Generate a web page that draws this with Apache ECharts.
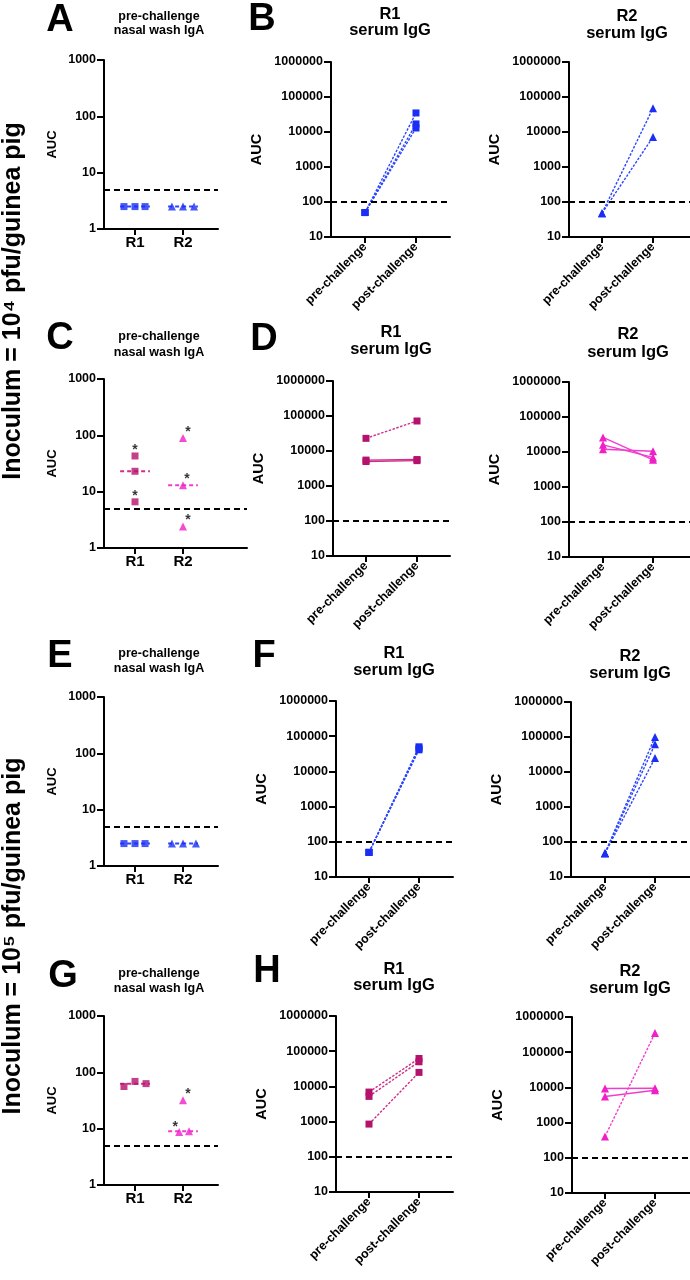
<!DOCTYPE html>
<html><head><meta charset="utf-8">
<script src="https://cdn.jsdelivr.net/npm/echarts@6/dist/echarts.min.js"></script>
<style>html,body{margin:0;padding:0;background:#fff}#c{width:690px;height:1280px}</style>
</head><body><div id="c"></div>
<script>
// ================= DATA =================
const nasalCategories = ['R1', 'R2'];
const serumCategories = ['pre-challenge', 'post-challenge'];
const nasalTickLabels = ['1', '10', '100', '1000'];
const serumTickLabels = ['10', '100', '1000', '10000', '100000', '1000000'];
const nasalLOD = 5;
const serumLOD = 100;
const sideLabels = ['Inoculum = 10\u2074 pfu/guinea pig', 'Inoculum = 10\u2075 pfu/guinea pig'];

// A: 10^4, pre-challenge nasal wash IgA
const aR1 = [2.5, 2.5, 2.5];
const aR2 = [2.5, 2.5, 2.5];
// B: 10^4, serum IgG
const bR1Pre = [50, 50, 50];
const bR1Post = [35000, 17000, 13000];
const bR2Pre = [48, 48];
const bR2Post = [48000, 7200];
// C: 10^4, nasal IgA
const cR1 = [43, 23, 6.6];
const cR2 = [90, 13, 2.4];
const cR1Star = [1, 0, 1];
const cR2Star = [1, 1, 1];
// D: 10^4, serum IgG
const dR1Pre = [23000, 5500, 5000];
const dR1Post = [72000, 5700, 5300];
const dR2Pre = [26000, 16000, 12000];
const dR2Post = [6000, 7000, 10500];
// E: 10^5, nasal IgA
const eR1 = [2.5, 2.5, 2.5];
const eR2 = [2.5, 2.5, 2.5];
// F: 10^5, serum IgG
const fR1Pre = [50, 50, 50];
const fR1Post = [50000, 45000, 41000];
const fR2Pre = [48, 48, 48];
const fR2Post = [100000, 62000, 25000];
// G: 10^5, nasal IgA
const gR1 = [56, 69, 63];
const gR2 = [8.7, 32, 9.0];
const gR1Star = [0, 0, 0];
const gR2Star = [1, 1, 0];
// H: 10^5, serum IgG
const hR1Pre = [6900, 5200, 850];
const hR1Post = [62000, 50000, 25000];
const hR2Pre = [9300, 5500, 400];
const hR2Post = [9500, 8300, 350000];

// ================= STYLE / LAYOUT =================
const FONT = 'Liberation Sans, Arial, sans-serif';
const BLUE = { m: '#1a2ef5', l: '#2b45ff' };
const CRIM = { m: '#b5126d', l: '#cf2f88' };
const PINK = { m: '#f01fc8', l: '#f23ccd' };
const DOT = [2.5, 1.5];

const panels = [
  { letter: 'A', kind: 'nasal', box: [104, 60, 114, 169], x: [0.354, 2.729], L: [60, 21], tx: 159, ty: [17, 31],
    groups: [
      { vals: aR1, col: BLUE, sym: 'rect', jit: [-0.23, 0, 0.21] },
      { vals: aR2, col: BLUE, sym: 'triangle', jit: [-0.23, 0, 0.23] }] },
  { letter: 'B', kind: 'serum', title: 'R1', box: [331, 62, 119, 175], x: [-0.667, 1.667], L: [262, 20], tx: 390, ty: [14, 30],
    pre: bR1Pre, post: bR1Post, col: BLUE, sym: 'rect', types: [DOT, DOT, DOT] },
  { kind: 'serum', title: 'R2', box: [569, 62, 121, 175], x: [-0.647, 1.725], tx: 627, ty: [16, 33],
    pre: bR2Pre, post: bR2Post, col: BLUE, sym: 'triangle', types: [DOT, DOT] },
  { letter: 'C', kind: 'nasal', box: [104, 379, 143, 169], x: [0.354, 3.333], L: [60, 339], tx: 159, ty: [337, 353],
    groups: [
      { vals: cR1, col: CRIM, sym: 'rect', jit: [0, 0, 0], star: cR1Star, soff: [[0, 6], [0, 6], [0, 6]] },
      { vals: cR2, col: PINK, sym: 'triangle', jit: [0, 0, 0], star: cR2Star, soff: [[5, 6], [4, 6], [5, 6]] }] },
  { letter: 'D', kind: 'serum', title: 'R1', box: [333, 381, 117, 175], x: [-0.647, 1.647], L: [264, 340], tx: 391, ty: [332, 349],
    pre: dR1Pre, post: dR1Post, col: CRIM, sym: 'rect', types: [DOT, 'solid', 'solid'] },
  { kind: 'serum', title: 'R2', box: [569, 382, 121, 175], x: [-0.68, 1.74], tx: 628, ty: [334, 352],
    pre: dR2Pre, post: dR2Post, col: PINK, sym: 'triangle', types: ['solid', 'solid', 'solid'] },
  { letter: 'E', kind: 'nasal', box: [104, 697, 114, 169], x: [0.354, 2.729], L: [60, 657], tx: 159, ty: [654, 669],
    groups: [
      { vals: eR1, col: BLUE, sym: 'rect', jit: [-0.23, 0, 0.21] },
      { vals: eR2, col: BLUE, sym: 'triangle', jit: [-0.23, 0, 0.27] }] },
  { letter: 'F', kind: 'serum', title: 'R1', box: [336, 701, 117, 176], x: [-0.66, 1.68], L: [264, 657], tx: 394, ty: [653, 670],
    pre: fR1Pre, post: fR1Post, col: BLUE, sym: 'rect', types: [DOT, DOT, DOT] },
  { kind: 'serum', title: 'R2', box: [571, 702, 119, 175], x: [-0.68, 1.70], tx: 630, ty: [656, 673],
    pre: fR2Pre, post: fR2Post, col: BLUE, sym: 'triangle', types: [DOT, DOT, DOT] },
  { letter: 'G', kind: 'nasal', box: [104, 1016, 114, 169], x: [0.354, 2.729], L: [63, 977], tx: 159, ty: [974, 989],
    groups: [
      { vals: gR1, col: CRIM, sym: 'rect', jit: [-0.23, 0, 0.23], star: gR1Star, soff: [[0, 6], [0, 6], [0, 6]] },
      { vals: gR2, col: PINK, sym: 'triangle', jit: [-0.08, 0, 0.125], star: gR2Star, soff: [[-4, 7], [5, 6], [5, 6]] }] },
  { letter: 'H', kind: 'serum', title: 'R1', box: [336, 1016, 117, 176], x: [-0.66, 1.68], L: [267, 972], tx: 394, ty: [969, 985],
    pre: hR1Pre, post: hR1Post, col: CRIM, sym: 'rect', types: [DOT, DOT, DOT] },
  { kind: 'serum', title: 'R2', box: [572, 1017, 118, 176], x: [-0.66, 1.70], tx: 630, ty: [971, 988],
    pre: hR2Pre, post: hR2Post, col: PINK, sym: 'triangle', types: ['solid', 'solid', DOT] }
];

function median(a) {
  const s = a.slice().sort((p, q) => p - q);
  const n = s.length;
  return n % 2 ? s[(n - 1) / 2] : (s[n / 2 - 1] + s[n / 2]) / 2;
}

const grid = [], xAxis = [], yAxis = [], series = [], graphic = [];
const axisLine = { show: true, onZero: false, lineStyle: { color: '#000', width: 2 } };
const tickStyle = { color: '#000', width: 2 };

panels.forEach((p, gi) => {
  const [left, top, width, height] = p.box;
  grid.push({ left, top, width, height, containLabel: false });
  const nasal = p.kind === 'nasal';
  const cats = nasal ? nasalCategories : serumCategories;
  const catPos = nasal ? [1, 2] : [0, 1];
  const tickLabels = nasal ? nasalTickLabels : serumTickLabels;
  const minExp = nasal ? 0 : 1;
  xAxis.push({
    gridIndex: gi, type: 'value', min: p.x[0], max: p.x[1],
    axisLine, splitLine: { show: false },
    axisTick: { show: true, customValues: catPos, length: 6, lineStyle: tickStyle },
    axisLabel: {
      customValues: catPos,
      formatter: v => cats[catPos.indexOf(Math.round(v))] || '',
      fontFamily: FONT, fontWeight: 'bold', color: '#000',
      fontSize: nasal ? 15 : 12.5, rotate: nasal ? 0 : 45, margin: nasal ? 6 : 8
    }
  });
  yAxis.push({
    gridIndex: gi, type: 'log', logBase: 10,
    min: nasal ? 1 : 10, max: nasal ? 1000 : 1000000,
    axisLine, splitLine: { show: false },
    axisTick: { show: true, length: 7, lineStyle: tickStyle },
    axisLabel: {
      formatter: v => tickLabels[Math.round(Math.log10(v)) - minExp],
      fontFamily: FONT, fontWeight: 'bold', color: '#000',
      fontSize: 12.5, margin: 8
    }
  });
  const markLine = {
    silent: true, symbol: 'none', label: { show: false },
    lineStyle: { color: '#000', type: [6, 4], width: 1.8 },
    data: [{ yAxis: nasal ? nasalLOD : serumLOD }]
  };
  let first = true;
  if (nasal) {
    p.groups.forEach((g, k) => {
      const c = catPos[k];
      const med = median(g.vals);
      series.push({
        type: 'line', xAxisIndex: gi, yAxisIndex: gi, symbol: 'none', silent: true,
        data: [[c - 0.31, med], [c + 0.31, med]],
        lineStyle: { color: g.col.l, width: 2, type: [4, 3] }, z: 2,
        markLine: first ? markLine : undefined
      });
      first = false;
      series.push({
        type: 'scatter', xAxisIndex: gi, yAxisIndex: gi, symbol: g.sym,
        symbolSize: g.sym === 'rect' ? 7 : 8, z: 3,
        itemStyle: { color: g.col.m },
        data: g.vals.map((v, i) => ({
          value: [c + g.jit[i], v],
          label: {
            show: !!(g.star && g.star[i]), formatter: '*', position: 'top', distance: 1,
            offset: g.soff ? g.soff[i] : [0, 0],
            color: '#000', fontSize: 14, fontFamily: FONT, fontWeight: 'bold'
          }
        }))
      });
    });
  } else {
    p.pre.forEach((v, i) => {
      series.push({
        type: 'line', xAxisIndex: gi, yAxisIndex: gi,
        symbol: p.sym, symbolSize: p.sym === 'rect' ? 7 : 8, showSymbol: true,
        data: [[catPos[0], v], [catPos[1], p.post[i]]],
        itemStyle: { color: p.col.m },
        lineStyle: { color: p.col.l, width: 1.4, type: p.types[i] },
        markLine: first ? markLine : undefined, z: 3
      });
      first = false;
    });
  }
  if (p.letter) {
    graphic.push({ type: 'text', x: p.L[0], y: p.L[1],
      style: { text: p.letter, fontFamily: FONT, fontWeight: 'bold', fontSize: 38, fill: '#000',
        align: 'center', verticalAlign: 'middle' } });
  }
  const lines = nasal ? ['pre-challenge', 'nasal wash IgA'] : [p.title, 'serum IgG'];
  const tfs = nasal ? 12.5 : 16.5;
  lines.forEach((t, j) => {
    graphic.push({ type: 'text', x: p.tx, y: p.ty[j],
      style: { text: t, fontFamily: FONT, fontWeight: 'bold', fontSize: tfs, fill: '#000',
        align: 'center', verticalAlign: 'middle' } });
  });
  graphic.push({ type: 'text', x: left - (nasal ? 52 : 74), y: top + height / 2, rotation: Math.PI / 2,
    style: { text: 'AUC', fontFamily: FONT, fontWeight: 'bold', fontSize: nasal ? 13 : 14.5, fill: '#000',
      align: 'center', verticalAlign: 'middle' } });
});

[301, 936].forEach((y, i) => {
  graphic.push({ type: 'text', x: 13, y, rotation: Math.PI / 2,
    style: { text: sideLabels[i], fontFamily: FONT, fontWeight: 'bold', fontSize: 25, fill: '#000',
      align: 'center', verticalAlign: 'middle' } });
});

const chart = echarts.init(document.getElementById('c'), null, { renderer: 'canvas' });
chart.setOption({ animation: false, backgroundColor: '#fff', grid, xAxis, yAxis, series, graphic });
</script></body></html>
